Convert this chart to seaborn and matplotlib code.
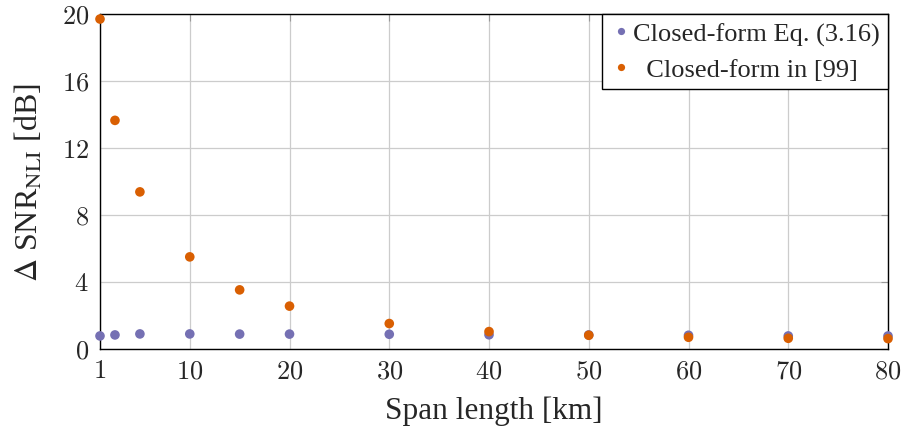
import matplotlib
matplotlib.use("Agg")
import matplotlib.pyplot as plt
import seaborn as sns
import pandas as pd

span_km = [1, 2.5, 5, 10, 15, 20, 30, 40, 50, 60, 70, 80]
closed_form_eq = [0.78, 0.84, 0.90, 0.90, 0.89, 0.89, 0.88, 0.85, 0.84, 0.82, 0.78, 0.78]
closed_form_99 = [19.7, 13.65, 9.38, 5.5, 3.53, 2.56, 1.52, 1.04, 0.82, 0.70, 0.64, 0.62]
x_ticks = [1, 10, 20, 30, 40, 50, 60, 70, 80]
y_ticks = [0, 4, 8, 12, 16, 20]
label_eq = "Closed-form Eq. (3.16)"
label_99 = "Closed-form in [99]"

sns.set_style("white")
plt.rcParams['font.family'] = ['Liberation Serif', 'DejaVu Serif']
plt.rcParams['mathtext.fontset'] = 'stix'

df = pd.DataFrame({
    "span": span_km * 2,
    "val": closed_form_eq + closed_form_99,
    "series": [label_eq] * len(span_km) + [label_99] * len(span_km),
})

fig = plt.figure(figsize=(9.06, 4.35), dpi=100)
ax = fig.add_axes([100 / 906, 85 / 435, 788 / 906, 335 / 435])

sns.scatterplot(data=df, x="span", y="val", hue="series",
                palette={label_eq: "#7570b3", label_99: "#d95f02"},
                s=48, edgecolor="none", ax=ax, zorder=3, clip_on=False)

ax.set_xlim(1, 80)
ax.set_ylim(0, 20)
ax.set_xticks(x_ticks)
ax.set_yticks(y_ticks)
ax.set_xticklabels([f"${t}$" for t in x_ticks], math_fontfamily='cm', fontsize=19)
ax.set_yticklabels([f"${t}$" for t in y_ticks], math_fontfamily='cm', fontsize=19)
ax.grid(True, color="#cccccc", linewidth=0.9)
ax.set_axisbelow(True)
ax.tick_params(direction="in", length=5, top=True, right=True, color="#999999", pad=8)
for sp in ax.spines.values():
    sp.set_color("black")
    sp.set_linewidth(1.0)

ax.set_xlabel("Span length [km]", fontsize=22.5, labelpad=10)
ax.set_ylabel(r"$\Delta$ SNR$_{\mathrm{NLI}}$ [dB]", fontsize=23, labelpad=12)

handles, _ = ax.get_legend_handles_labels()
leg = ax.legend(handles, [label_eq, "  " + label_99], loc="upper right", fontsize=19,
                frameon=True, fancybox=False, edgecolor="black", framealpha=1,
                borderaxespad=0.0, handletextpad=0.0, borderpad=0.3,
                labelspacing=0.45, handlelength=0.9, markerscale=0.75)
leg.get_frame().set_linewidth(1.0)

fig.savefig("out.png", dpi=100)
